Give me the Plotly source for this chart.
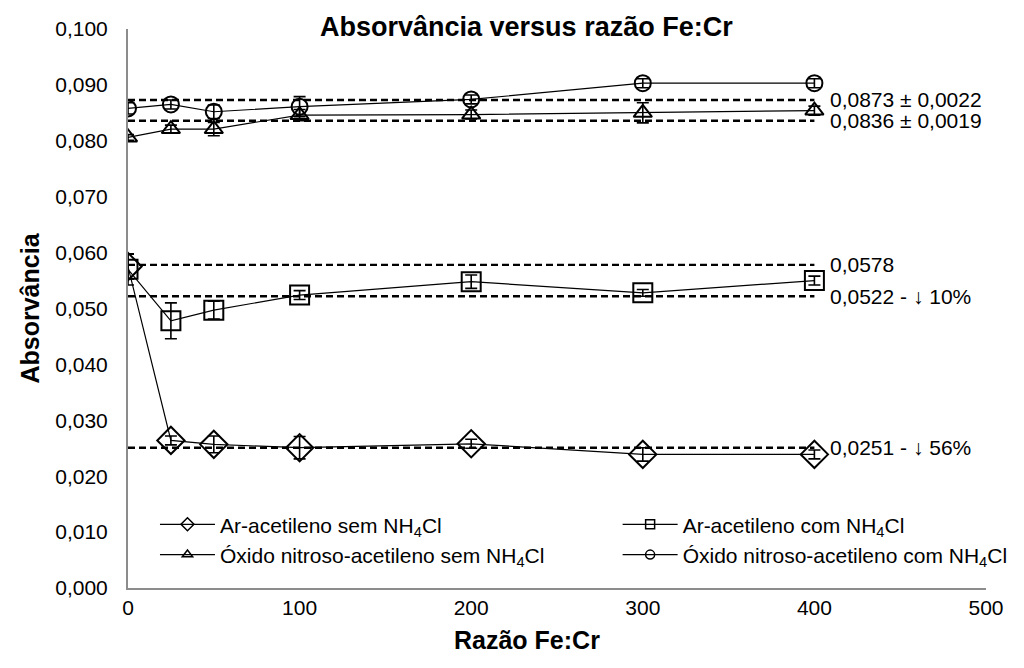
import plotly.graph_objects as go

# ---- data ----
ratio = [0, 25, 50, 100, 200, 300, 400]

ar_sem = [0.0575, 0.0264, 0.0257, 0.0251, 0.0258, 0.0239, 0.0239]
ar_sem_err = [0.0022, 0.0008, 0.0015, 0.0020, 0.0008, 0.0012, 0.0008]

ar_com = [0.0570, 0.0478, 0.0497, 0.0524, 0.0548, 0.0528, 0.0550]
ar_com_err = [0.0028, 0.0032, 0.0016, 0.0008, 0.0012, 0.0006, 0.0008]

on_sem = [0.0806, 0.0821, 0.0821, 0.0846, 0.0847, 0.0850, 0.0854]
on_sem_err = [0.0005, 0.0007, 0.0012, 0.0010, 0.0008, 0.0018, 0.0008]

on_com = [0.0858, 0.0865, 0.0852, 0.0861, 0.0874, 0.0903, 0.0903]
on_com_err = [0.0010, 0.0008, 0.0012, 0.0018, 0.0008, 0.0008, 0.0008]

names = ["Ar-acetileno sem NH<sub>4</sub>Cl",
         "Ar-acetileno com NH<sub>4</sub>Cl",
         "Óxido nitroso-acetileno sem NH<sub>4</sub>Cl",
         "Óxido nitroso-acetileno com NH<sub>4</sub>Cl"]

ref_values = [0.0873, 0.0836, 0.0578, 0.0522, 0.0251]
ref_labels = ["0,0873 ± 0,0022", "0,0836 ± 0,0019", "0,0578",
              "0,0522 - ↓ 10%", "0,0251 - ↓ 56%"]
ref_x = [0, 400]

FONT = "Liberation Sans, Arial, sans-serif"

fig = go.Figure()

# dashed reference lines
for v in ref_values:
    fig.add_trace(go.Scatter(x=ref_x, y=[v, v], mode="lines",
                             line=dict(color="black", width=2.4, dash="7px,4px"),
                             showlegend=False, hoverinfo="skip"))

series = [
    (ar_sem, ar_sem_err, "diamond-open", 21, "legend", 10),
    (ar_com, ar_com_err, "square-open", 19, "legend2", 9),
    (on_sem, on_sem_err, "triangle-up-open", 16, "legend", 9),
    (on_com, on_com_err, "circle-open", 16, "legend2", 9),
]
for (ys, es, sym, sz, lg, lsz), nm in zip(series, names):
    fig.add_trace(go.Scatter(
        x=ratio, y=ys, name=nm, mode="lines+markers", showlegend=False,
        line=dict(color="black", width=1.2),
        marker=dict(symbol=sym, size=sz, color="black", line=dict(width=2, color="black")),
        error_y=dict(type="data", array=es, visible=True, color="black",
                     thickness=1.6, width=6),
    ))
    # legend entry with small marker, as in the original legend
    fig.add_trace(go.Scatter(
        x=[None], y=[None], name=nm, mode="lines+markers", legend=lg,
        line=dict(color="black", width=1.2),
        marker=dict(symbol=sym, size=lsz, color="black", line=dict(width=1.5, color="black")),
    ))

for v, t in zip(ref_values, ref_labels):
    fig.add_annotation(x=400, y=v, text=t, showarrow=False, xanchor="left",
                       xshift=14, font=dict(size=21, color="black", family=FONT))

# chart title
fig.add_annotation(x=(527 - 128) / 859, y=1.0, xref="paper", yref="paper", yanchor="middle",
                   yshift=2, text="<b>Absorvância versus razão Fe:Cr</b>", showarrow=False,
                   font=dict(size=27, color="black", family=FONT))
# x axis title
fig.add_annotation(x=(527 - 128) / 859, y=-(640 - 588) / 559, xref="paper", yref="paper",
                   yanchor="middle", text="<b>Razão Fe:Cr</b>", showarrow=False,
                   font=dict(size=25, color="black", family=FONT))

leg_common = dict(orientation="v", xanchor="left", yanchor="top", itemwidth=55,
                  itemsizing="trace", font=dict(size=21, family=FONT, color="black"),
                  bgcolor="rgba(0,0,0,0)", tracegroupgap=0)

fig.update_layout(
    width=1024, height=668,
    margin=dict(l=128, r=37, t=29, b=80),
    paper_bgcolor="white", plot_bgcolor="white",
    separators=", ",
    font=dict(family=FONT, size=21, color="black"),
    showlegend=True,
    legend=dict(x=0.0314, y=0.150, **leg_common),
    legend2=dict(x=0.570, y=0.150, **leg_common),
)
fig.update_xaxes(range=[0, 500], dtick=100, tick0=0, showgrid=False, zeroline=False,
                 showline=True, linecolor="#8c8c8c", linewidth=2, ticks="",
                 tickfont=dict(size=21, family=FONT, color="black"))
fig.update_yaxes(range=[0, 0.1], dtick=0.01, tick0=0, tickformat=".3f", showgrid=False,
                 zeroline=False, showline=True, linecolor="#8c8c8c", linewidth=2, ticks="",
                 ticklabelstandoff=14,
                 title=dict(text="<b>Absorvância</b>", font=dict(size=25, family=FONT), standoff=8),
                 tickfont=dict(size=21, family=FONT, color="black"))

fig.write_html("out.html")
